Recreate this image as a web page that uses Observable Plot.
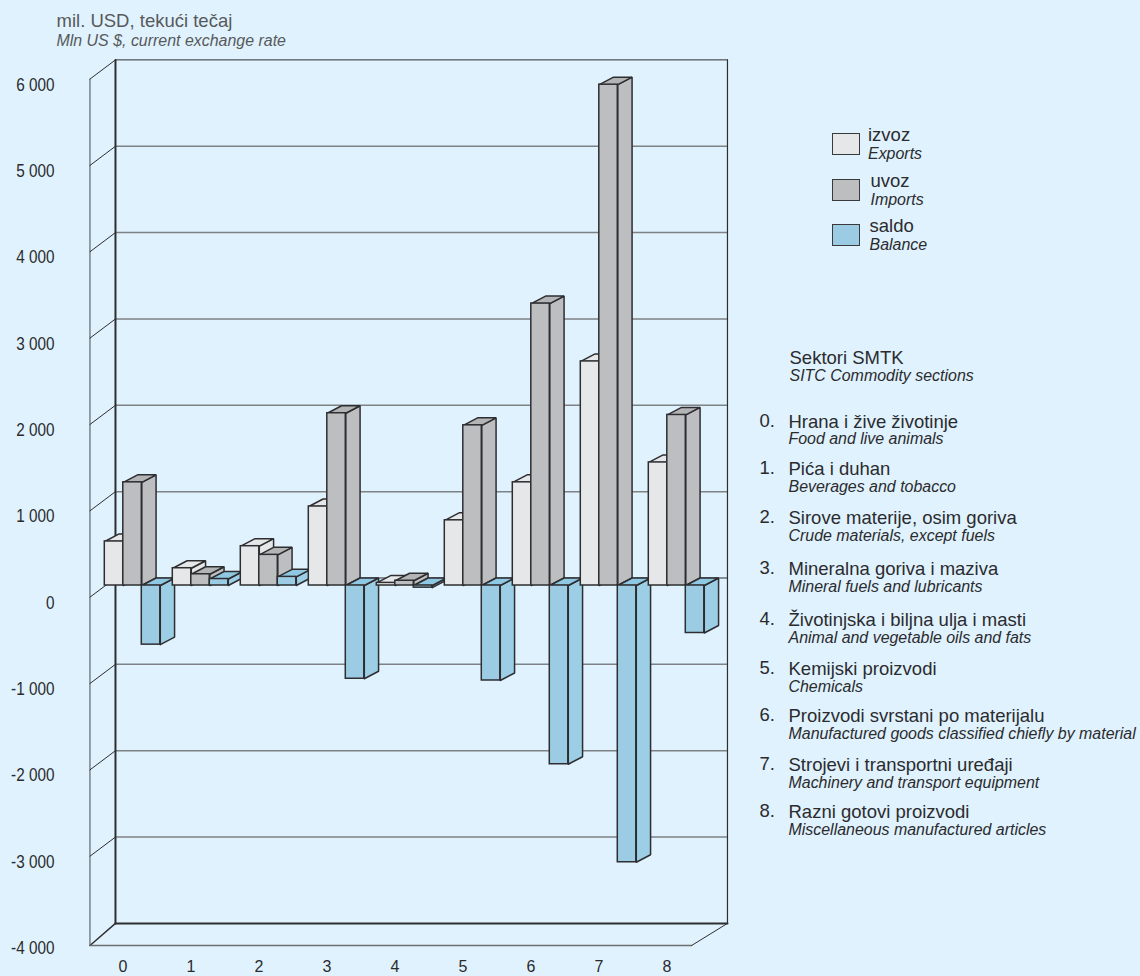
<!DOCTYPE html>
<html lang="hr">
<head>
<meta charset="utf-8">
<title>Robna razmjena po sektorima SMTK</title>
<script src="https://cdn.jsdelivr.net/npm/d3@7"></script>
<script src="https://cdn.jsdelivr.net/npm/@observablehq/plot@0.6"></script>
<style>
html,body{margin:0;padding:0;background:#dff2fd;width:1140px;height:976px;overflow:hidden}
body{position:relative;font-family:"Liberation Sans",Arial,sans-serif;color:#2b2b2e}
#chart{position:absolute;left:0;top:0}
#chart svg{background:transparent;display:block}
.t{position:absolute;white-space:nowrap;transform:translateY(-50%);line-height:1}
.p{font-size:18.5px}
.i{font-size:15.95px;font-style:italic}
.h{color:#58595b}
.sw{position:absolute;width:26px;height:20px;border:1.5px solid #3a3a3d}
</style>
</head>
<body>
<div id="chart"></div>
<script>
// ---- data (mil. USD) ----
const sections = [0, 1, 2, 3, 4, 5, 6, 7, 8];
const izvoz = [510, 200, 455, 915, 30, 755, 1195, 2595, 1425];
const uvoz = [1195, 130, 355, 1995, 55, 1855, 3265, 5800, 1975];
const saldo = [-685, 75, 100, -1080, -25, -1100, -2070, -3205, -550];
const valueTicks = [6000, 5000, 4000, 3000, 2000, 1000, 0, -1000, -2000, -3000, -4000];
const gridValues = [5000, 4000, 3000, 2000, 1000, -1000, -2000, -3000];

const legendHr = ["izvoz", "uvoz", "saldo"];
const legendEn = ["Exports", "Imports", "Balance"];
const sectionsHr = ["Hrana i žive životinje", "Pića i duhan", "Sirove materije, osim goriva", "Mineralna goriva i maziva", "Životinjska i biljna ulja i masti", "Kemijski proizvodi", "Proizvodi svrstani po materijalu", "Strojevi i transportni uređaji", "Razni gotovi proizvodi"];
const sectionsEn = ["Food and live animals", "Beverages and tobacco", "Crude materials, except fuels", "Mineral fuels and lubricants", "Animal and vegetable oils and fats", "Chemicals", "Manufactured goods classified chiefly by material", "Machinery and transport equipment", "Miscellaneous manufactured articles"];

// ---- style ----
const fronts = ["#e6e7e8", "#bcbec0", "#9bcce3"];
const sides = ["#e6e7e8", "#bcbec0", "#9ccee5"];
const tops = ["#e6e7e8", "#b2b4b6", "#8fc8e2"];
const ink = "#2e2e31";

// ---- 3D geometry in data units ----
const barW = 0.272, depthX = 0.21, depthV = 87;
const backL = 0.157, backR = 9, frontL = -0.218, frontR = 8.63;
const frontV = -135, floorFront = -4169;

const bars = [];
sections.forEach((c, i) => [izvoz[i], uvoz[i], saldo[i]].forEach((v, s) => {
  const x0 = c + s * barW;
  bars.push({x0, x1: x0 + barW, hi: Math.max(0, v), lo: Math.min(0, v), s});
}));

const seg = (pts, o) => Plot.line(pts, {x: "x", y: "y", ...o});
const barMarks = bars.flatMap(b => {
  const X = b.x1 + depthX, H = b.hi + depthV, L = b.lo + depthV;
  const side = [{x: b.x1, y: b.lo}, {x: X, y: L}, {x: X, y: H}, {x: b.x1, y: b.hi}, {x: b.x1, y: b.lo}];
  const top = [{x: b.x0, y: b.hi}, {x: b.x0 + depthX, y: H}, {x: X, y: H}, {x: b.x1, y: b.hi}, {x: b.x0, y: b.hi}];
  const st = {stroke: ink, strokeWidth: 1.5, strokeLinejoin: "miter"};
  return [
    seg(side, {fill: sides[b.s], ...st}),
    seg(top, {fill: tops[b.s], ...st}),
    Plot.rect([b], {x1: "x0", x2: "x1", y1: "lo", y2: "hi", fill: fronts[b.s], ...st})
  ];
});

const topV = 6000 + depthV, botV = -4000 + depthV;
const chart = Plot.plot({
  width: 1140,
  height: 976,
  marginLeft: 54,
  marginRight: 0,
  marginTop: 0,
  marginBottom: 15.5,
  style: {background: "transparent", fontFamily: "'Liberation Sans', Arial, sans-serif", fontSize: "16px", color: "#2b2b2e"},
  x: {domain: [0, 8], range: [104.3, 648.3], label: null},
  y: {domain: [-4000, 6000], range: [930.4, 66.9], label: null},
  marks: [
    // back wall gridlines
    Plot.ruleY(gridValues.map(v => v + depthV), {y: d => d, x1: backL, x2: backR + backL, stroke: "#7f8285", strokeWidth: 1.5}),
    seg([{x: backL, y: depthV}, {x: backR + backL, y: depthV}], {stroke: ink, strokeWidth: 1}),
    seg([{x: backL, y: topV}, {x: backR + backL, y: topV}], {stroke: ink, strokeWidth: 1}),
    seg([{x: backL, y: botV}, {x: backR + backL, y: botV}], {stroke: ink, strokeWidth: 2}),
    seg([{x: backL, y: botV}, {x: backL, y: topV}], {stroke: ink, strokeWidth: 2}),
    seg([{x: backR + backL, y: botV}, {x: backR + backL, y: topV}], {stroke: ink, strokeWidth: 1.2}),
    // left wall
    seg([{x: frontL, y: floorFront}, {x: frontL, y: 6000 + frontV}], {stroke: "#4a4a4d", strokeWidth: 1}),
    ...valueTicks.filter(v => v !== -4000).map(v =>
      seg([{x: frontL, y: v + frontV}, {x: backL, y: v + depthV}], {stroke: ink, strokeWidth: 1})),
    // floor
    seg([{x: frontL, y: floorFront}, {x: backL, y: botV}], {stroke: ink, strokeWidth: 1.4}),
    seg([{x: frontL, y: floorFront}, {x: frontR, y: floorFront}], {stroke: "#6d6e71", strokeWidth: 1.3}),
    seg([{x: frontR, y: floorFront}, {x: backR + backL, y: botV}], {stroke: ink, strokeWidth: 1}),
    // bars
    ...barMarks,
    // axes
    Plot.axisY({anchor: "left", ticks: valueTicks, tickSize: 0, tickPadding: 0, dy: 17.5, label: null, fontSize: 18,
      tickFormat: d => d3.format(",")(d).replace(",", " ").replace("−", "-")}),
    Plot.axisX({anchor: "bottom", ticks: sections, tickSize: 0, tickPadding: 0, dx: 18.2, label: null, tickFormat: d => String(d)})
  ]
});
document.getElementById("chart").append(chart);

// The reference's value labels are a condensed face: tighten them to the same width.
d3.select(chart).selectAll("g[aria-label='y-axis tick label'] text").each(function () {
  this.setAttribute("textLength", this.getComputedTextLength() * 0.85);
  this.setAttribute("lengthAdjust", "spacingAndGlyphs");
});

// ---- text blocks around the plot ----
const add = (cls, txt, x, y) => {
  const e = document.createElement("div");
  e.className = "t " + cls; e.textContent = txt;
  e.style.left = x + "px"; e.style.top = y + "px";
  document.body.append(e);
};
add("p h", "mil. USD, tekući tečaj", 56.5, 21);
add("i h", "Mln US $, current exchange rate", 56.5, 41);

const swatchTop = [133, 179, 224], legendTextX = [868, 870.5, 869.5];
legendHr.forEach((t, k) => {
  const s = document.createElement("div");
  s.className = "sw"; s.style.left = "832px"; s.style.top = swatchTop[k] + "px"; s.style.background = fronts[k];
  document.body.append(s);
  add("p", t, legendTextX[k], swatchTop[k] + 2);
  add("i", legendEn[k], legendTextX[k], swatchTop[k] + 21);
});

add("p", "Sektori SMTK", 789.5, 358);
add("i", "SITC Commodity sections", 789.5, 376);
const rowY = [422, 469, 518, 569, 620, 669, 716, 765, 812];
const rowYEn = [439, 487, 536, 587, 638, 687, 734, 783, 830];
sections.forEach((c, k) => {
  add("p", c + ".", 759.5, rowY[k] - 1);
  add("p", sectionsHr[k], 788.5, rowY[k]);
  add("i", sectionsEn[k], 788.5, rowYEn[k]);
});
</script>
</body>
</html>
